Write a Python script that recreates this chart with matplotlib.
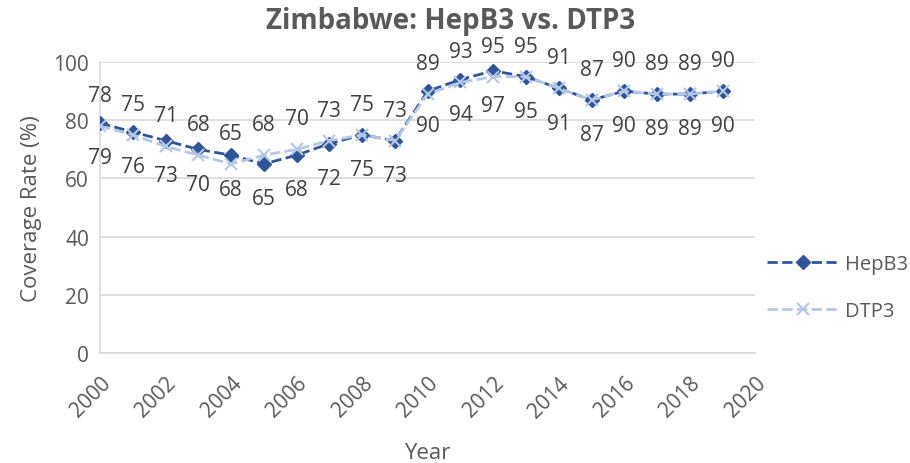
import numpy as np
import matplotlib.pyplot as plt

plt.rcParams['font.family'] = ['Open Sans', 'DejaVu Sans']

years = list(range(2000, 2020))
hepb3 = [79, 76, 73, 70, 68, 65, 68, 72, 75, 73, 90, 94, 97, 95, 91, 87, 90, 89, 89, 90]
dtp3 = [78, 75, 71, 68, 65, 68, 70, 73, 75, 73, 89, 93, 95, 95, 91, 87, 90, 89, 89, 90]

grey = '#595959'
dark = '#2F5597'
light = '#B4C7E7'

fig = plt.figure(figsize=(9.1, 4.64), dpi=100)
ax = fig.add_axes([0.11, 0.237, 0.72, 0.627])

ax.plot(years, hepb3, color=dark, linestyle='--', linewidth=2, marker='D', markersize=7, label='HepB3', zorder=3)
ax.plot(years, dtp3, color=light, linestyle='--', linewidth=2, marker='x', markersize=9, markeredgewidth=1.5, label='DTP3', zorder=4)

for x, y in zip(years, hepb3):                       # HepB3 labels below
    ax.annotate(str(y), (x, y), xytext=(0, -25), textcoords='offset points',
                ha='center', va='center', fontsize=15, color='#404040')
for x, y in zip(years, dtp3):                        # DTP3 labels above
    ax.annotate(str(y), (x, y), xytext=(0, 22), textcoords='offset points',
                ha='center', va='center', fontsize=15, color='#404040')

ax.set_xlim(2000, 2020)
ax.set_ylim(0, 100)
ax.set_xticks(range(2000, 2021, 2))
ax.set_yticks(range(0, 101, 20))
plt.setp(ax.get_xticklabels(), rotation=45, ha='right', rotation_mode='anchor')
ax.tick_params(colors=grey, labelsize=15, length=0)
ax.tick_params(axis='x', pad=14)
ax.tick_params(axis='y', pad=8)
ax.grid(axis='y', color='#d9d9d9', linewidth=1.2)
ax.set_axisbelow(True)
for s in ['top', 'right']:
    ax.spines[s].set_visible(False)
for s in ['left', 'bottom']:
    ax.spines[s].set_color('#d9d9d9')
    ax.spines[s].set_linewidth(1.2)

ax.set_xlabel('Year', fontsize=16, color=grey, labelpad=15)
ax.set_ylabel('Coverage Rate (%)', fontsize=16, color=grey, labelpad=8)
fig.suptitle('Zimbabwe: HepB3 vs. DTP3', x=0.495, y=0.985, fontsize=20, fontweight='bold', color=grey)

leg = ax.legend(loc='center left', bbox_to_anchor=(0.99, 0.225), frameon=False, fontsize=14.5,
                labelspacing=1.3, handlelength=3.6, handletextpad=0.3)
for t in leg.get_texts():
    t.set_color(grey)

fig.savefig('out.png', dpi=100)
